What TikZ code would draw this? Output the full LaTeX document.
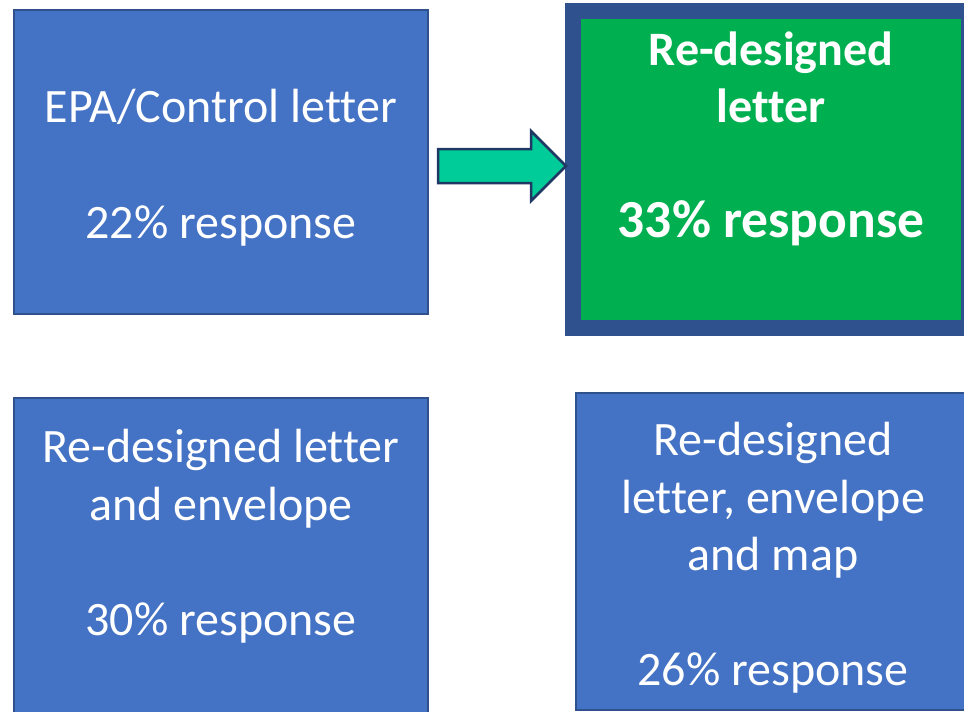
\documentclass[tikz,border=0pt]{standalone}
\usepackage{fontspec}
\setmainfont{Carlito}[Ligatures=NoCommon]
\definecolor{boxblue}{HTML}{4472C4}
\definecolor{edgeblue}{HTML}{2F528F}
\definecolor{boxgreen}{HTML}{00B050}
\definecolor{arrowfill}{HTML}{00CC99}
\definecolor{arrowedge}{HTML}{1F3864}
\tikzset{
  bluebox/.style={fill=boxblue, draw=edgeblue, line width=2pt},
  frame/.style={fill=edgeblue, draw=none},
  greenbox/.style={fill=boxgreen, draw=none},
  txt/.style={text=white, inner sep=0pt, anchor=base, font=\fontsize{48}{58}\selectfont},
  btxt/.style={text=white, inner sep=0pt, anchor=base, font=\fontsize{48}{58}\selectfont\bfseries},
  bigtxt/.style={text=white, inner sep=0pt, anchor=base, font=\fontsize{53.5}{62}\selectfont\bfseries},
  blockarrow/.style={fill=arrowfill, draw=arrowedge, line width=2.5pt, line join=miter}
}
\begin{document}
\begin{tikzpicture}[x=1pt,y=-1pt]
\useasboundingbox (0,0) rectangle (964,712);
% box 1
\draw[bluebox] (14,10) rectangle (428,314);
\node[txt] (t1a) at (221,122) {EPA/Control letter};
\node[txt] (t1b) at (221,238) {22\% response};
% green box
\fill[frame] (565,3) rectangle (972,336);
\fill[greenbox] (581,19) rectangle (961,320);
\node[btxt] (t2a) at (771,65) {Re-designed};
\node[btxt] (t2b) at (771,122) {letter};
\node[bigtxt] (t2c) at (771,237) {33\% response};
% arrow
\draw[blockarrow] (438,149) -- (531,149) -- (531,131) -- (566,166) -- (531,201) -- (531,183) -- (438,183) -- cycle;
% box 3
\draw[bluebox] (14,398) rectangle (428,720);
\node[txt] (t3a) at (221,462) {Re-designed letter};
\node[txt] (t3b) at (221,520) {and envelope};
\node[txt] (t3c) at (221,635) {30\% response};
% box 4
\draw[bluebox] (576,393) rectangle (972,710);
\node[txt] (t4a) at (773,455) {Re-designed};
\node[txt] (t4b) at (773,513) {letter, envelope};
\node[txt] (t4c) at (773,570) {and map};
\node[txt] (t4d) at (773,685) {26\% response};
\end{tikzpicture}
\end{document}
